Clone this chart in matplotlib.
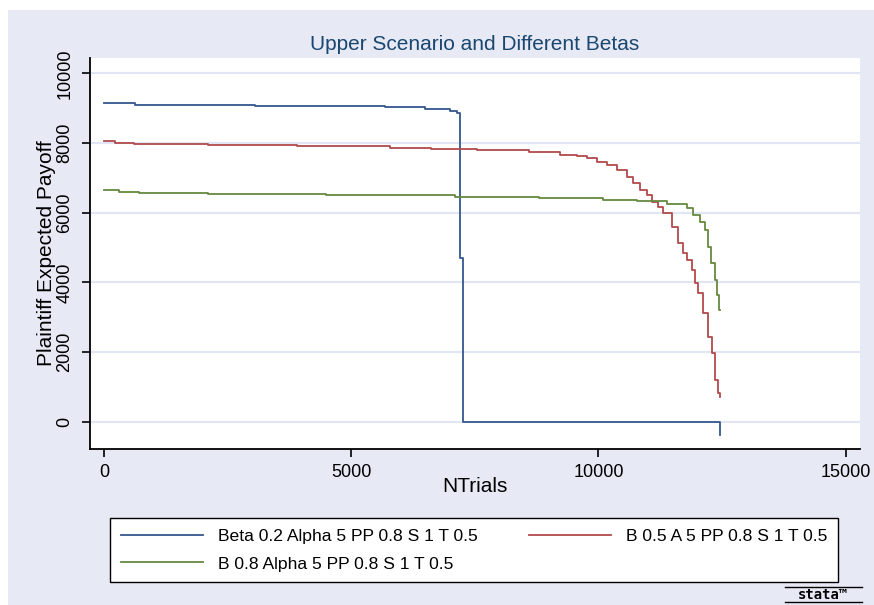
import matplotlib
matplotlib.use("Agg")
import matplotlib.pyplot as plt
from matplotlib.lines import Line2D
from matplotlib.patches import Rectangle

# ---- data (step functions: value holds from x[i] until x[i+1]) ----
beta02_x = [0, 630, 3050, 5680, 6490, 7000, 7150, 7200, 7270, 12460, 12460]
beta02_y = [9135, 9090, 9050, 9020, 8990, 8930, 8870, 4710, 0, 0, -370]

beta05_x = [0, 230, 600, 2100, 3900, 5580, 5790, 6610, 7540, 8600, 9225, 9563,
            9765, 9967, 10170, 10372, 10574, 10709, 10844, 10979, 11080, 11200,
            11315, 11484, 11619, 11714, 11786, 11887, 11955, 12022, 12123, 12224,
            12291, 12361, 12429, 12462]
beta05_y = [8070, 8000, 7970, 7940, 7920, 7900, 7870, 7830, 7790, 7730, 7655, 7635,
            7560, 7463, 7368, 7224, 7032, 6843, 6650, 6507, 6315, 6150,
            5982, 5597, 5121, 4834, 4643, 4354, 3972, 3685, 3111, 2440,
            1963, 1197, 815, 718]

beta08_x = [0, 300, 700, 2100, 4500, 7100, 8800, 10089, 10789, 11381, 11786, 11921,
            12056, 12157, 12224, 12272, 12361, 12408, 12442, 12462]
beta08_y = [6650, 6600, 6570, 6540, 6510, 6460, 6412, 6363, 6326, 6249, 6125, 5933,
            5741, 5502, 5023, 4547, 4067, 3637, 3206, 3206]

series_labels = ["Beta 0.2 Alpha 5 PP 0.8 S 1 T 0.5",
                 "B 0.5 A 5 PP 0.8 S 1 T 0.5",
                 "B 0.8 Alpha 5 PP 0.8 S 1 T 0.5"]
series_colors = ["#35578f", "#b24a4c", "#66893f"]

x_ticks = [0, 5000, 10000, 15000]
y_ticks = [0, 2000, 4000, 6000, 8000, 10000]

title = "Upper Scenario and Different Betas"
x_label = "NTrials"
y_label = "Plaintiff Expected Payoff"

# ---- figure ----
W, H = 874, 605
plt.rcParams["font.family"] = ["Liberation Sans", "DejaVu Sans"]
fig = plt.figure(figsize=(W / 100, H / 100), dpi=100)
fig.patch.set_facecolor("white")
bg = "#e7eaf5"
fig.add_artist(Rectangle((8 / W, 0), 1 - 8 / W, (H - 10) / H,
                         transform=fig.transFigure, facecolor=bg,
                         edgecolor="none", zorder=-10))

ax = fig.add_axes([90 / W, (H - 449) / H, (860 - 90) / W, (449 - 58) / H])
ax.set_facecolor("white")
ax.set_xlim(-283, 15291)
ax.set_ylim(-784, 10440)

for s in ("top", "right"):
    ax.spines[s].set_visible(False)
for s in ("left", "bottom"):
    ax.spines[s].set_linewidth(1.3)
    ax.spines[s].set_color("black")

ax.set_xticks(x_ticks)
ax.set_yticks(y_ticks)
ax.tick_params(axis="both", direction="out", length=6, width=1.2,
               labelsize=13, colors="black")
ax.tick_params(axis="x", pad=5)
ax.tick_params(axis="y", pad=6, labelrotation=90)
for lab in ax.get_yticklabels():
    lab.set_va("center")

ax.grid(axis="y", color="#e1e6f4", linewidth=1.5)
ax.set_axisbelow(True)

handles = []
for xs, ys, col, lab in zip([beta02_x, beta05_x, beta08_x],
                            [beta02_y, beta05_y, beta08_y],
                            series_colors, series_labels):
    h, = ax.plot(xs, ys, drawstyle="steps-post", color=col, lw=1.3, label=lab)
    handles.append(h)

ax.set_title(title, color="#1a476f", fontsize=15, pad=6)
ax.set_xlabel(x_label, fontsize=15)
ax.xaxis.set_label_coords(0.5, -0.072)
ax.set_ylabel(y_label, fontsize=15)
ax.yaxis.set_label_coords(-0.044, 0.5)

# legend: row-wise ordering in a two-column box
order = [0, 2, 1]
leg = fig.legend([handles[i] for i in order], [series_labels[i] for i in order],
                 loc="lower left",
                 bbox_to_anchor=(110 / W, 1 - 582 / H, (838 - 110) / W, (582 - 510) / H),
                 mode="expand", ncol=2, fontsize=12.6, frameon=True, fancybox=False,
                 framealpha=1.0,
                 handlelength=4.7, handletextpad=0.85, borderpad=0.6,
                 labelspacing=0.7, borderaxespad=0)
leg.get_frame().set_edgecolor("black")
leg.get_frame().set_linewidth(1.0)
leg.get_frame().set_facecolor("white")

# stata mark
fig.text(823 / W, 1 - 595 / H, "stata\u2122", fontsize=10, fontweight="bold",
         ha="center", va="center", family="DejaVu Sans Mono")
fig.add_artist(Line2D([785 / W, 862 / W], [1 - 587 / H] * 2, color="black", lw=1.0))
fig.add_artist(Line2D([785 / W, 862 / W], [1 - 602 / H] * 2, color="black", lw=1.0))

fig.savefig("out.png", dpi=100, facecolor=fig.get_facecolor())
